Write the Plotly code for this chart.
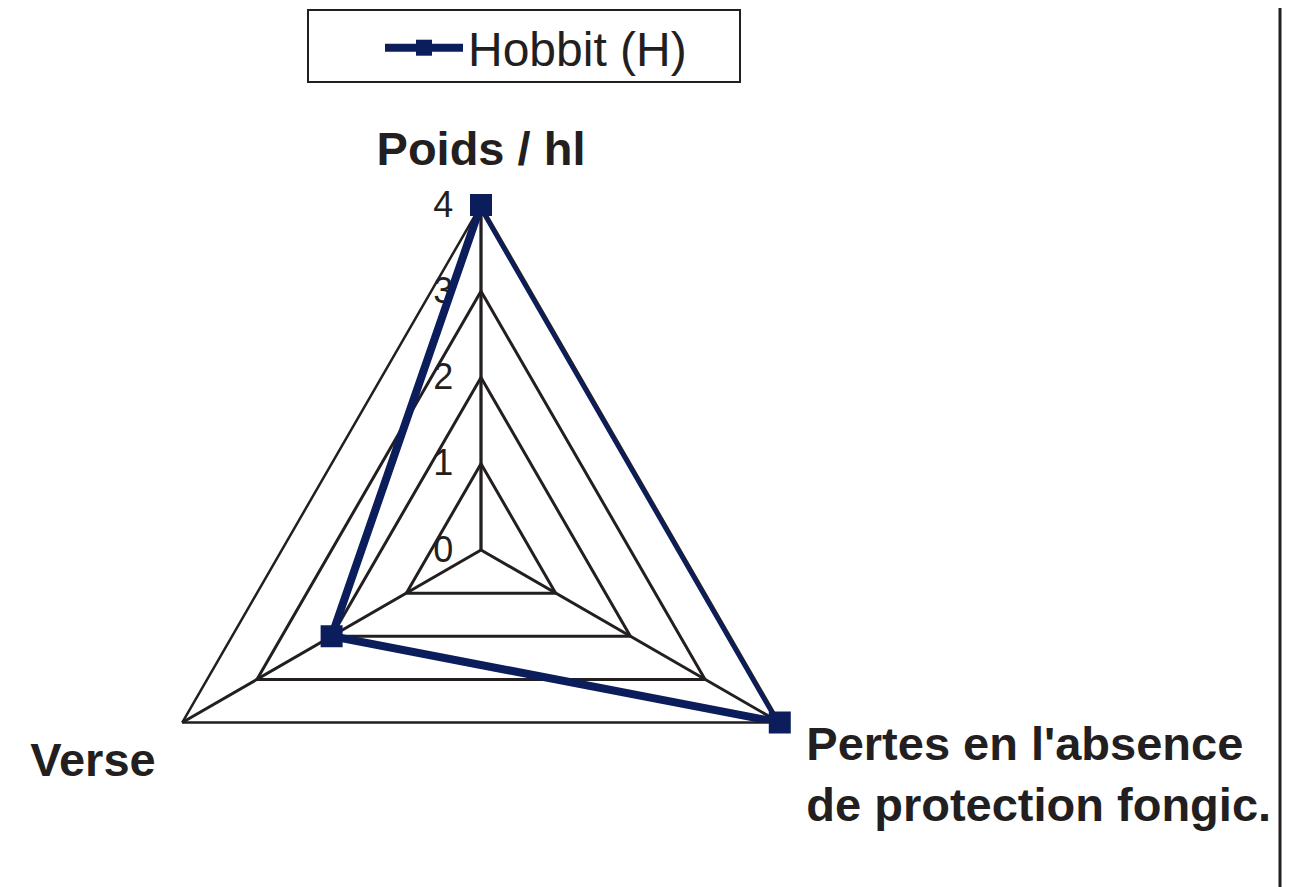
import plotly.graph_objects as go

CRITERIA = ["Poids / hl", "Pertes en l'absence<br>de protection fongic.", "Verse"]
HOBBIT_SCORES = [4, 4, 2]
RADIAL_TICKS = [0, 1, 2, 3, 4]

SERIES_NAME = "Hobbit (H)"
SERIES_COLOR = "#0c1d5c"
INK = "#231f20"
FONT_FAMILY = "Arial, Liberation Sans, sans-serif"

W, H = 1290, 887
PAGE_OFFSET = 8  # the page body adds an 8px margin around the figure


def px_x(x):
    return (x - PAGE_OFFSET) / W


def px_y(y):
    return 1 - (y - PAGE_OFFSET) / H


# closed outline: repeat the first point at the end
theta = CRITERIA + CRITERIA[:1]
r = HOBBIT_SCORES + HOBBIT_SCORES[:1]

trace = go.Scatterpolar(
    r=r,
    theta=theta,
    name=SERIES_NAME,
    mode="lines+markers",
    line=dict(color=SERIES_COLOR, width=8),
    marker=dict(symbol="square", size=22, color=SERIES_COLOR),
    cliponaxis=False,
)

fig = go.Figure(data=[trace])

# the whole circle has to fit in the figure, so the radar sits as low as it can
radius = 345
cx = 481
fig.update_layout(
    width=W,
    height=H,
    margin=dict(l=0, r=0, t=0, b=0, autoexpand=False),
    paper_bgcolor="white",
    plot_bgcolor="white",
    font=dict(family=FONT_FAMILY, color=INK),
    showlegend=True,
    legend=dict(
        x=px_x(380),
        y=px_y(48),
        xanchor="left",
        yanchor="middle",
        itemwidth=78,
        font=dict(size=48, color=INK),
        bgcolor="rgba(0,0,0,0)",
        borderwidth=0,
    ),
    polar=dict(
        bgcolor="white",
        gridshape="linear",
        domain=dict(
            x=[px_x(cx - radius), px_x(cx + radius)],
            y=[0, 2 * radius / H],
        ),
        angularaxis=dict(
            categoryorder="array",
            categoryarray=CRITERIA,
            direction="clockwise",
            rotation=90,
            layer="below traces",
            showline=True,
            linecolor=INK,
            linewidth=2.5,
            gridcolor=INK,
            gridwidth=2.5,
            ticks="outside",
            ticklen=20,
            tickcolor="rgba(0,0,0,0)",
            tickfont=dict(size=47, color=INK, weight="bold"),
        ),
        radialaxis=dict(
            range=[0, 4],
            tickvals=RADIAL_TICKS,
            angle=90,
            tickangle=90,
            side="counterclockwise",
            layer="below traces",
            showline=True,
            linecolor=INK,
            linewidth=2.5,
            gridcolor=INK,
            gridwidth=2.5,
            ticks="outside",
            ticklen=14,
            tickcolor="rgba(0,0,0,0)",
            tickfont=dict(size=36, color=INK),
        ),
    ),
    shapes=[
        # legend frame
        dict(
            type="rect",
            xref="paper",
            yref="paper",
            x0=px_x(308),
            x1=px_x(740),
            y0=px_y(82),
            y1=px_y(10),
            line=dict(color=INK, width=2),
            layer="below",
        ),
        # right border of the chart area
        dict(
            type="line",
            xref="paper",
            yref="paper",
            x0=px_x(1280),
            x1=px_x(1280),
            y0=0,
            y1=px_y(0),
            line=dict(color=INK, width=3),
            layer="below",
        ),
    ],
)

fig.write_html("out.html")
